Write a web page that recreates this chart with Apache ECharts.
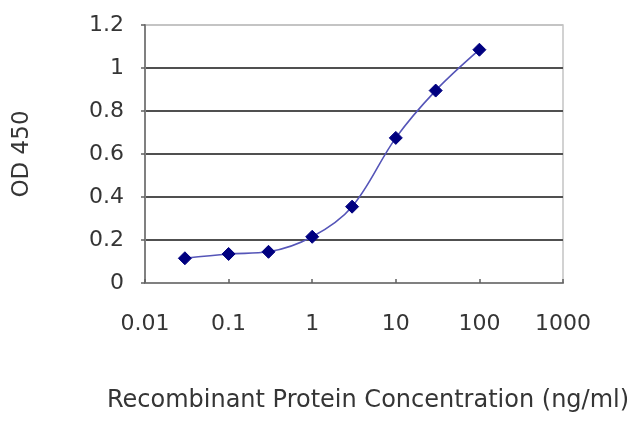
<!DOCTYPE html>
<html>
<head>
<meta charset="utf-8">
<script src="https://cdn.jsdelivr.net/npm/echarts@6/dist/echarts.min.js"></script>
<style>
html,body{margin:0;padding:0;background:#fff;}
#c{width:640px;height:427px;}
</style>
</head>
<body>
<div id="c"></div>
<script>
var concentrations = [0.03, 0.1, 0.3, 1, 3, 10, 30, 100];
var odValues = [0.115, 0.135, 0.145, 0.215, 0.355, 0.675, 0.895, 1.085];
var xTickLabels = ['0.01', '0.1', '1', '10', '100', '1000'];
var yTickLabels = ['0', '0.2', '0.4', '0.6', '0.8', '1', '1.2'];
var xTitle = 'Recombinant Protein Concentration (ng/ml)';
var yTitle = 'OD 450';

var chart = echarts.init(document.getElementById('c'), null, {renderer: 'canvas'});
var font = 'DejaVu Sans';
var textColor = '#353535';
var points = concentrations.map(function (c, i) { return [c, odValues[i]]; });

function nearestLabel(v, labels) {
  var best = labels[0], bd = Infinity;
  labels.forEach(function (l) {
    var d = Math.abs(Math.log10(parseFloat(l)) - Math.log10(v));
    if (d < bd) { bd = d; best = l; }
  });
  return best;
}

chart.setOption({
  animation: false,
  backgroundColor: '#ffffff',
  grid: {
    left: 145, right: 77, top: 25, bottom: 144,
    containLabel: false, outerBoundsMode: 'none',
    show: true, borderColor: '#c4c4c4', borderWidth: 1.5, backgroundColor: 'transparent'
  },
  xAxis: {
    type: 'log', logBase: 10,
    min: parseFloat(xTickLabels[0]), max: parseFloat(xTickLabels[xTickLabels.length - 1]),
    name: xTitle, nameLocation: 'middle', nameGap: 106,
    nameTextStyle: {fontFamily: font, fontSize: 24, color: textColor, padding: [0, 0, 0, 28]},
    axisLine: {show: true, lineStyle: {color: '#808080', width: 2}},
    axisTick: {show: true, inside: true, length: 4, lineStyle: {color: '#606060', width: 1.5}},
    minorTick: {show: false},
    splitLine: {show: false},
    axisLabel: {
      fontFamily: font, fontSize: 22, color: textColor, margin: 30,
      formatter: function (v) { return nearestLabel(v, xTickLabels); }
    }
  },
  yAxis: {
    type: 'value', min: 0, max: 1.2, interval: 0.2,
    name: yTitle, nameLocation: 'middle', nameGap: 111, nameRotate: 90,
    nameTextStyle: {fontFamily: font, fontSize: 23, color: textColor},
    axisLine: {show: true, lineStyle: {color: '#808080', width: 2}},
    axisTick: {show: true, inside: false, length: 4, lineStyle: {color: '#606060', width: 1.5}},
    splitLine: {show: true, lineStyle: {color: ['#505050', '#505050', '#505050', '#505050', '#505050', '#505050', '#c4c4c4'], width: 2}},
    axisLabel: {
      fontFamily: font, fontSize: 22, color: textColor, margin: 21,
      formatter: function (v) { return yTickLabels[Math.round(v / 0.2)]; }
    }
  },
  series: [{
    type: 'line',
    data: points,
    smooth: 0.35,
    symbol: 'diamond',
    symbolSize: 13,
    lineStyle: {color: '#5555b8', width: 1.6},
    itemStyle: {color: '#000080', borderColor: '#000080'},
    z: 5
  }]
});
</script>
</body>
</html>
